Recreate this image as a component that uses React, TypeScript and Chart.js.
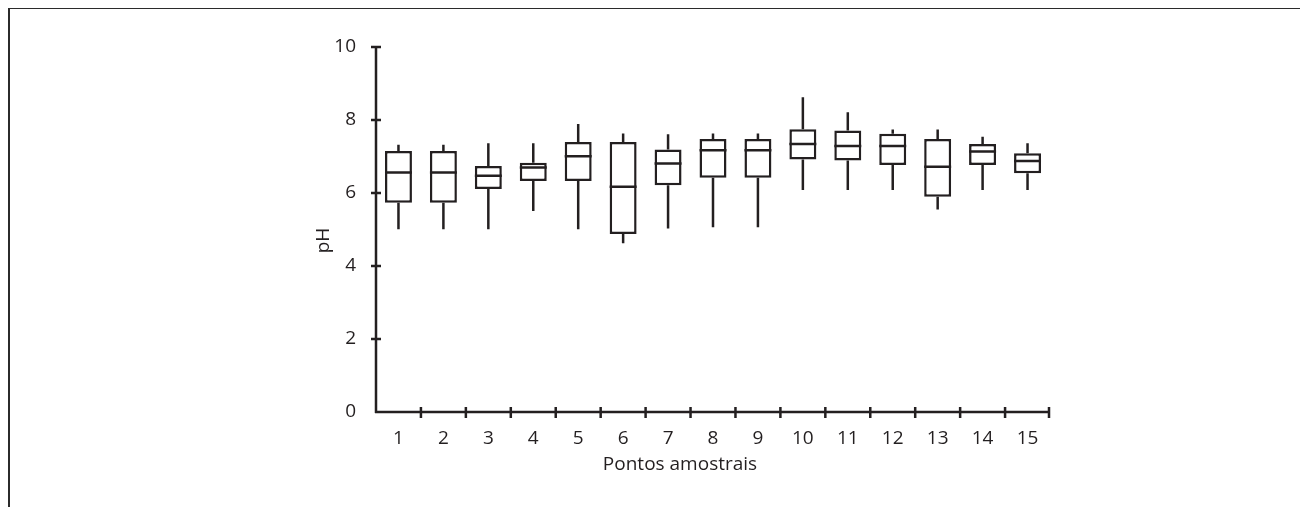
import React, { useEffect, useRef } from "react";
import { Chart, registerables } from "chart.js";

Chart.register(...registerables);

const categories = ["1", "2", "3", "4", "5", "6", "7", "8", "9", "10", "11", "12", "13", "14", "15"];
const whiskerMax = [7.32, 7.32, 7.36, 7.36, 7.89, 7.63, 7.61, 7.63, 7.63, 8.62, 8.21, 7.74, 7.74, 7.54, 7.36];
const q3 = [7.15, 7.15, 6.74, 6.83, 7.4, 7.4, 7.19, 7.48, 7.48, 7.75, 7.71, 7.62, 7.48, 7.34, 7.09];
const median = [6.56, 6.56, 6.47, 6.7, 7.01, 6.17, 6.81, 7.17, 7.17, 7.34, 7.29, 7.29, 6.72, 7.14, 6.88];
const q1 = [5.73, 5.73, 6.11, 6.33, 6.33, 4.88, 6.21, 6.42, 6.42, 6.92, 6.89, 6.77, 5.9, 6.77, 6.54];
const whiskerMin = [5.01, 5.01, 5.01, 5.51, 5.01, 4.62, 5.03, 5.06, 5.06, 6.08, 6.08, 6.08, 5.55, 6.08, 6.08];
const yTicks = [0, 2, 4, 6, 8, 10];
const yTitle = "pH";
const xTitle = "Pontos amostrais";

const INK = "#231f20";
const FONT = "'Open Sans', 'DejaVu Sans', sans-serif";
const LW = 2.5;

const boxPlugin = {
  id: "boxExtras",
  afterDatasetsDraw(chart: any) {
    const ctx = chart.ctx;
    const xs = chart.scales.x;
    const ys = chart.scales.y;
    const meta = chart.getDatasetMeta(0);
    ctx.save();
    ctx.strokeStyle = INK;
    ctx.lineWidth = LW;
    ctx.lineCap = "butt";
    categories.forEach((_, i) => {
      const el = meta.data[i];
      const x = xs.getPixelForValue(i);
      const w = el.width;
      ctx.beginPath();
      ctx.moveTo(x, ys.getPixelForValue(q3[i]));
      ctx.lineTo(x, ys.getPixelForValue(whiskerMax[i]));
      ctx.moveTo(x, ys.getPixelForValue(q1[i]));
      ctx.lineTo(x, ys.getPixelForValue(whiskerMin[i]));
      const ym = ys.getPixelForValue(median[i]);
      ctx.moveTo(x - w / 2, ym);
      ctx.lineTo(x + w / 2, ym);
      ctx.stroke();
    });
    ctx.restore();
  },
};

const axesPlugin = {
  id: "axesDraw",
  afterDraw(chart: any) {
    const ctx = chart.ctx;
    const xs = chart.scales.x;
    const ys = chart.scales.y;
    const area = chart.chartArea;
    const y0 = ys.getPixelForValue(0);
    const left = area.left;
    const right = area.right;
    ctx.save();
    ctx.strokeStyle = INK;
    ctx.lineWidth = LW;
    ctx.lineCap = "butt";
    ctx.beginPath();
    // y axis
    ctx.moveTo(left, ys.getPixelForValue(yTicks[yTicks.length - 1]));
    ctx.lineTo(left, y0 + 1);
    yTicks.forEach((v) => {
      if (v === 0) return;
      const py = ys.getPixelForValue(v);
      ctx.moveTo(left - 5, py);
      ctx.lineTo(left + 5, py);
    });
    // x axis
    ctx.moveTo(left - 1, y0);
    ctx.lineTo(right, y0);
    categories.forEach((_, i) => {
      const px =
        i < categories.length - 1
          ? (xs.getPixelForValue(i) + xs.getPixelForValue(i + 1)) / 2
          : right - 1;
      ctx.moveTo(px, y0 - 5);
      ctx.lineTo(px, y0 + 6);
    });
    ctx.stroke();

    // titles
    ctx.fillStyle = INK;
    ctx.font = `19px ${FONT}`;
    ctx.textAlign = "center";
    ctx.textBaseline = "alphabetic";
    ctx.fillText(xTitle, (left + right) / 2 - 33, y0 + 58);
    ctx.translate(left - 52, (area.top + area.bottom) / 2 + 11);
    ctx.rotate(-Math.PI / 2);
    ctx.textBaseline = "middle";
    ctx.fillText(yTitle, 0, 0);
    ctx.restore();
  },
};

export default function App() {
  const ref = useRef<HTMLCanvasElement | null>(null);

  useEffect(() => {
    document.documentElement.style.overflow = "hidden";
    document.body.style.overflow = "hidden";
    if (!ref.current) return;
    const chart = new Chart(ref.current, {
      type: "bar",
      data: {
        labels: categories,
        datasets: [
          {
            data: categories.map((_, i) => [q1[i], q3[i]]) as any,
            backgroundColor: "#ffffff",
            borderColor: INK,
            borderWidth: LW,
            borderSkipped: false,
            barPercentage: 0.6,
            categoryPercentage: 1,
          },
        ],
      },
      options: {
        responsive: false,
        animation: false,
        devicePixelRatio: 1,
        layout: { padding: { left: 306, right: 250, top: 38, bottom: 47 } },
        plugins: {
          legend: { display: false },
          tooltip: { enabled: false },
          title: { display: false },
        },
        scales: {
          x: {
            type: "category",
            offset: true,
            grid: { display: false },
            border: { display: false },
            ticks: {
              color: INK,
              font: { family: FONT, size: 19 },
              padding: 7,
              maxRotation: 0,
              autoSkip: false,
            },
            afterFit: (s: any) => {
              s.height = 40;
            },
          },
          y: {
            min: 0,
            max: 10,
            grid: { display: false },
            border: { display: false },
            ticks: {
              stepSize: 2,
              color: INK,
              font: { family: FONT, size: 19 },
              padding: 12,
            },
            afterFit: (s: any) => {
              s.width = 60;
            },
          },
        },
      },
      plugins: [boxPlugin, axesPlugin],
    });
    return () => chart.destroy();
  }, []);

  return (
    <div
      style={{
        borderTop: "2px solid #2b2b2b",
        borderLeft: "2px solid #2b2b2b",
        marginTop: -1,
        height: 520,
        background: "#fff",
      }}
    >
      <canvas ref={ref} width={1290} height={490} style={{ display: "block" }} />
    </div>
  );
}
